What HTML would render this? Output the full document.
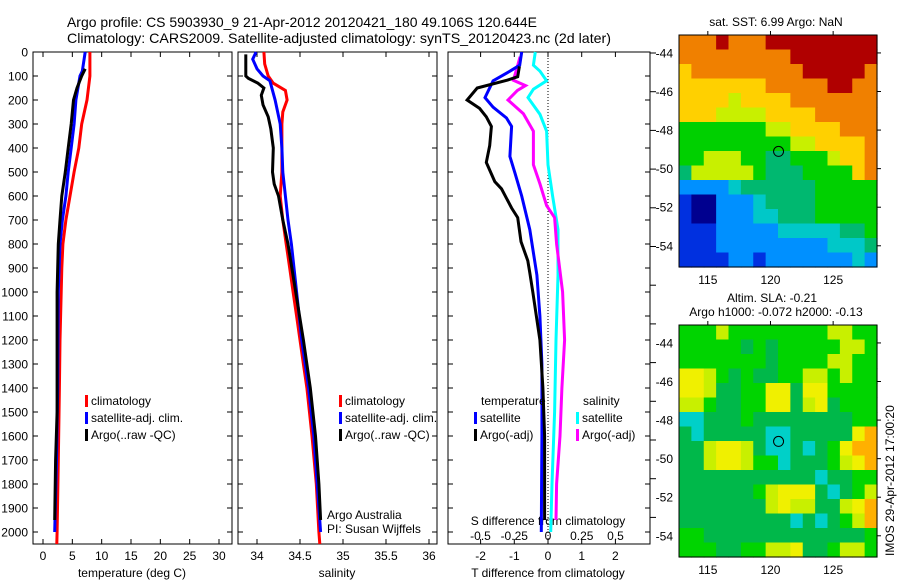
<!DOCTYPE html>
<html><head><meta charset="utf-8"><style>
html,body{margin:0;padding:0;background:#fff;width:900px;height:580px;overflow:hidden}
svg{display:block;font-family:"Liberation Sans",sans-serif}
</style></head><body>
<svg id="fig" width="900" height="580" viewBox="0 0 900 580" xmlns="http://www.w3.org/2000/svg">
<text x="67" y="27" font-size="14" textLength="470" lengthAdjust="spacingAndGlyphs">Argo profile: CS 5903930_9 21-Apr-2012 20120421_180 49.106S 120.644E</text>
<text x="67" y="43" font-size="14" textLength="544" lengthAdjust="spacingAndGlyphs">Climatology: CARS2009. Satellite-adjusted climatology: synTS_20120423.nc (2d later)</text>
<g id="g"></g>
</svg>
<script>
// ---------- data ----------
const tDepthClim = [0,100,200,300,400,500,600,700,800,900,1000,1200,1400,1700,2000,2050];
const tClim      = [8.0,8.0,7.5,6.6,6.1,5.3,4.6,3.9,3.4,3.2,3.1,2.9,2.8,2.6,2.4,2.35];
const tDepthSat  = [0,80,100,200,300,400,500,600,700,800,1000,1400,1700,2000];
const tSat       = [7.2,6.7,6.3,5.6,5.3,4.8,4.3,3.9,3.3,2.9,2.6,2.5,2.3,2.0];
const tDepthArgo = [70,100,150,200,300,400,500,600,700,800,1000,1500,1700,1950];
const tArgo      = [7.2,6.6,5.8,5.2,4.8,4.3,3.8,3.2,2.9,2.6,2.4,2.4,2.15,2.0];

const sDepthClim = [0,50,100,130,160,200,250,300,500,600,700,800,900,1000,1100,1200,1300,1400,1600,1800,2000,2050];
const sClim      = [34.08,34.09,34.13,34.19,34.33,34.35,34.30,34.29,34.29,34.27,34.30,34.34,34.38,34.42,34.46,34.50,34.54,34.58,34.64,34.69,34.72,34.73];
const sDepthSat  = [0,30,70,100,120,200,300,400,500,600,700,800,1000,1200,1400,1600,1800,2000];
const sSat       = [33.99,33.95,34.0,34.07,34.15,34.21,34.27,34.29,34.30,34.33,34.36,34.40,34.46,34.52,34.60,34.66,34.70,34.74];
const sDepthArgo = [10,100,110,130,150,180,220,270,320,400,500,550,600,700,800,1000,1200,1400,1600,1800,1950];
const sArgo      = [33.87,33.87,33.9,34.01,34.08,34.05,34.07,34.13,34.16,34.19,34.18,34.2,34.25,34.3,34.36,34.45,34.54,34.62,34.68,34.72,34.74];

const dTDepthArgo = [60,103,117,150,200,235,270,310,390,460,540,570,650,690,790,870,920,1000,1200,1400,1600,1950];
const dTArgo      = [-0.85,-0.9,-1.2,-2.1,-2.4,-2.03,-1.83,-1.68,-1.73,-1.83,-1.58,-1.38,-1.08,-0.9,-0.8,-0.6,-0.54,-0.45,-0.24,-0.15,-0.1,-0.1];
const dTDepthSat  = [0,55,80,120,190,230,275,310,435,505,600,740,930,1100,1300,1600,2000];
const dTSat       = [-0.78,-0.84,-1.13,-1.63,-1.87,-1.63,-1.23,-1.08,-1.13,-0.98,-0.78,-0.54,-0.33,-0.24,-0.18,-0.18,-0.2];
const dSDepthArgo = [20,60,118,140,160,200,257,330,470,550,640,690,800,1000,1200,1400,1600,1800,1950];
const dSArgo      = [-0.207,-0.227,-0.256,-0.167,-0.227,-0.296,-0.182,-0.108,-0.108,-0.059,-0.01,0.049,0.064,0.108,0.123,0.103,0.089,0.064,0.059];
const dSDepthSat  = [0,55,80,120,155,190,260,330,470,600,740,930,1200,1500,1800,2000];
const dSSat       = [-0.094,-0.108,-0.059,-0.01,-0.108,-0.148,-0.059,-0.01,0,0.034,0.074,0.074,0.059,0.049,0.03,0.02];

const depthTicks = [0,100,200,300,400,500,600,700,800,900,1000,1100,1200,1300,1400,1500,1600,1700,1800,1900,2000];
const tTicks = [0,5,10,15,20,25,30];
const sTicks = [34,34.5,35,35.5,36];
const sTickLabels = ["34","34.5","35","35.5","36"];
const dTTicks = [-2,-1,0,1,2];
const dSTicks = [-0.5,-0.25,0,0.25,0.5];
const dSTickLabels = ["-0.5","-0.25","0","0.25","0.5"];
const lonTicks = [115,120,125];
const latTicks = [-44,-46,-48,-50,-52,-54];

const palette = ["#00008f","#0030e0","#0090ff","#00c8c8","#00b870","#00d000","#c8f000","#ffd000","#f08000","#b00000"];
const slaPalette = ["#00008f","#0030e0","#0090ff","#00d0c8","#00b84a","#00d400","#c8f000","#f0f000","#ffb000","#f07000"];
const sstGrid = [
"8889888999999999","8888888889999999","7888888888999998","7777777888889988",
"7777677778888888","7776666777788888","5555555667777888","5555555556677778",
"5566655445556778","4666665444555578","2222344444455555","1002223444455555",
"1002223344455555","1112222233333445","1112222222223334","1111221222222232"];
const slaGrid = [
"5556555555556655","5555545455555665","5555555455556655","7765454455665655",
"7764455774775555","6654455774674555","3344454444444455","4344444334444478",
"4467764334345788","4467765534445678","4444444444434455","4444445677743456",
"4444444676644678","4444444443434568","5544444444444445","5554455667445665"];
const argoLon = 120.644, argoLat = -49.106;

// ---------- helpers ----------
const NS="http://www.w3.org/2000/svg";
const G=document.getElementById('g');
function mk(tag,attrs,parent){const e=document.createElementNS(NS,tag);for(const k in attrs)e.setAttribute(k,attrs[k]);(parent||G).appendChild(e);return e;}
function txt(x,y,s,size,anchor,name){const e=mk('text',{x:x,y:y,'font-size':size,'text-anchor':anchor||'start'});e.textContent=s;


return e;}

const Y0=52, Y1=544, DMAX=2050;
const yD = d => Y0 + (d/DMAX)*(Y1-Y0);
const panels = [
 {x0:33,x1:232,name:'temperature-panel'},
 {x0:238,x1:437,name:'salinity-panel'},
 {x0:448,x1:650,name:'difference-panel'}];
const xT = v => 43 + v*5.867;
const xS = v => 257 + (v-34)*86;
const xDT = v => 548 + v*33.7;
const xDS = v => 548 + v*135;

panels.forEach(p=>{
 const r=mk('rect',{x:p.x0,y:Y0,width:p.x1-p.x0,height:Y1-Y0,fill:'#fff',stroke:'#000','stroke-width':1});
 
 
 depthTicks.forEach(d=>{
  const y=yD(d);
  const a=mk('line',{x1:p.x0,x2:p.x0+5,y1:y,y2:y,stroke:'#000'});
  
  
  const b=mk('line',{x1:p.x1-5,x2:p.x1,y1:y,y2:y,stroke:'#000'});
  
  
 });
});
depthTicks.forEach(d=>{ txt(28,yD(d)+4.5,String(d),12,'end','depth-tick-label'); });
for(let y=53;y<=545;y+=38.7){const t=mk('line',{x1:650,x2:656,y1:y,y2:y,stroke:'#000'});
 
 }

function xTicks(vals,fx,labels,ly,name){
 vals.forEach((v,i)=>{const x=fx(v);
  const a=mk('line',{x1:x,x2:x,y1:Y0,y2:Y0+5,stroke:'#000'});
  
  
  const b=mk('line',{x1:x,x2:x,y1:Y1-5,y2:Y1,stroke:'#000'});
  
  
  if(labels) txt(x,ly,labels[i],12,'middle',name+'-tick-label');
 });
}
xTicks(tTicks,xT,tTicks.map(String),560,'temperature');
xTicks(sTicks,xS,sTickLabels,560,'salinity');
xTicks(dTTicks,xDT,dTTicks.map(String),560,'t-difference');
dSTicks.forEach((v,i)=>txt(xDS(v),540,dSTickLabels[i],12,'middle','s-difference-tick-label'));
txt(132,577,'temperature (deg C)',12,'middle','temperature-axis-title');
txt(337,577,'salinity',12,'middle','salinity-axis-title');
txt(548,577,'T difference from climatology',12,'middle','t-difference-axis-title');
txt(548,525,'S difference from climatology',12,'middle','s-difference-axis-title');
const zl=mk('line',{x1:548,x2:548,y1:Y0,y2:Y1,stroke:'#000','stroke-dasharray':'1,2'});



function profile(depths,vals,fx,color,name){
 const pts=depths.map((d,i)=>fx(vals[i]).toFixed(1)+','+yD(d).toFixed(1)).join(' ');
 const e=mk('polyline',{points:pts,fill:'none',stroke:color,'stroke-width':3,'stroke-linejoin':'miter'});
 
 
}
profile(tDepthClim,tClim,xT,'#f00','temperature-climatology-line');
profile(tDepthSat,tSat,xT,'#00f','temperature-satellite-line');
profile(tDepthArgo,tArgo,xT,'#000','temperature-argo-line');
profile(sDepthClim,sClim,xS,'#f00','salinity-climatology-line');
profile(sDepthSat,sSat,xS,'#00f','salinity-satellite-line');
profile(sDepthArgo,sArgo,xS,'#000','salinity-argo-line');
profile(dSDepthSat,dSSat,xDS,'#0ff','s-diff-satellite-line');
profile(dSDepthArgo,dSArgo,xDS,'#f0f','s-diff-argo-line');
profile(dTDepthSat,dTSat,xDT,'#00f','t-diff-satellite-line');
profile(dTDepthArgo,dTArgo,xDT,'#000','t-diff-argo-line');

function legendEntry(x,y,color,label){
 const b=mk('rect',{x:x,y:y-10,width:3,height:12,fill:color});
 
 
 txt(x+6,y,label,12,'start','legend-entry');
}
[[85,'#f00','climatology'],[85,'#00f','satellite-adj. clim.'],[85,'#000','Argo(..raw -QC)']].forEach((l,i)=>legendEntry(l[0],405+i*17,l[1],l[2]));
[[339,'#f00','climatology'],[339,'#00f','satellite-adj. clim.'],[339,'#000','Argo(..raw -QC)']].forEach((l,i)=>legendEntry(l[0],405+i*17,l[1],l[2]));
txt(481,405,'temperature',12,'start','legend-title-temperature');
txt(583,405,'salinity',12,'start','legend-title-salinity');
legendEntry(474,422,'#00f','satellite');
legendEntry(474,439,'#000','Argo(-adj)');
legendEntry(576,422,'#0ff','satellite');
legendEntry(576,439,'#f0f','Argo(-adj)');
txt(327,519,'Argo Australia',12,'start','credit-line-1');
txt(327,533,'PI: Susan Wijffels',12,'start','credit-line-2');

// ---------- maps ----------
function drawMap(top,grid,pal,name){
 const L=679,R=877,T=top,B=top+232;
 const lon0=112.7,lon1=128.5,lat0=-43.07,lat1=-55.1;
 const mx=v=>L+(v-lon0)/(lon1-lon0)*(R-L);
 const my=v=>T+(v-lat0)/(lat1-lat0)*(B-T);
 const cols=grid[0].length, rows=grid.length;
 const cw=(R-L)/cols, ch=(B-T)/rows;
 grid.forEach((row,r)=>{for(let c=0;c<cols;c++){
  const e=mk('rect',{x:(L+c*cw).toFixed(2),y:(T+r*ch).toFixed(2),width:(cw+0.6).toFixed(2),height:(ch+0.6).toFixed(2),fill:pal[+row[c]]});
  
  
 }});
 const f=mk('rect',{x:L,y:T,width:R-L,height:B-T,fill:'none',stroke:'#000'});
 
 
 lonTicks.forEach(v=>{const x=mx(v);
  const t=mk('line',{x1:x,x2:x,y1:T-4,y2:T,stroke:'#000'});
  
  
  txt(x,B+17,String(v),12,'middle',name+'-lon-label');});
 latTicks.forEach(v=>{const y=my(v);
  const t=mk('line',{x1:R,x2:R+4,y1:y,y2:y,stroke:'#000'});
  
  
  txt(673,y+4.5,String(v),12,'end',name+'-lat-label');});
 const c=mk('circle',{cx:mx(argoLon),cy:my(argoLat),r:5,fill:'none',stroke:'#000'});
 
 
}
drawMap(35,sstGrid,palette,'sst-map');
drawMap(325,slaGrid,slaPalette,'sla-map');
txt(776,26,'sat. SST: 6.99 Argo: NaN',12,'middle','sst-map-title');
txt(772,302,'Altim. SLA: -0.21',12,'middle','sla-map-title-1');
txt(776,316,'Argo h1000: -0.072 h2000: -0.13',12,'middle','sla-map-title-2');
const vt=txt(0,0,'IMOS 29-Apr-2012 17:00:20',12,'start','imos-timestamp');
vt.setAttribute('transform','translate(894,556) rotate(-90)');
</script>
</body></html>
